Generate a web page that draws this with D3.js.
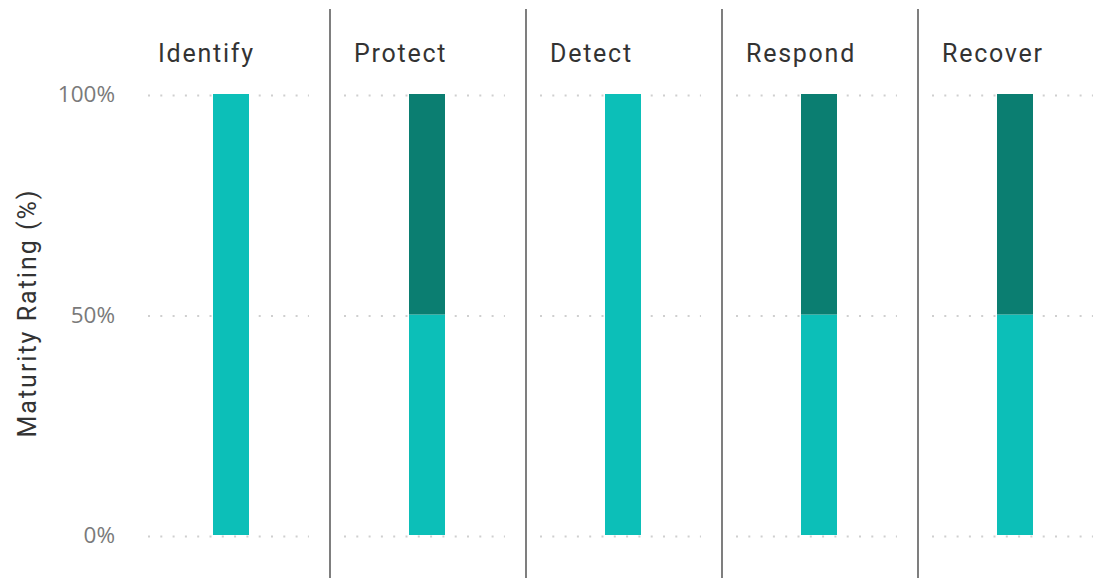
<!DOCTYPE html>
<html><head><meta charset="utf-8">
<script src="https://cdn.jsdelivr.net/npm/d3@7"></script>
<style>body{margin:0;background:#fff;}svg{display:block;}</style>
</head><body>
<svg id="chart" width="1102" height="584"></svg>
<script>
const categories = ["Identify", "Protect", "Detect", "Respond", "Recover"];
const achieved = [100, 50, 100, 50, 50];
const remaining = [0, 50, 0, 50, 50];
const yTicks = [0, 50, 100];
const yTitle = "Maturity Rating (%)";

const svg = d3.select("#chart");
const panelW = 196, panel0 = 134;
const y = d3.scaleLinear().domain([0, 100]).range([535, 94]);
const panelX = d3.scaleBand().domain(categories).range([panel0, panel0 + panelW * categories.length]).padding(0);

const colLight = "#0cbfb8", colDark = "#0b7e71";
const titleFont = "Roboto, 'DejaVu Sans', sans-serif";

// y tick labels
const tl = svg.append("g").selectAll("text").data(yTicks).join("text")
  .attr("x", 115).attr("y", d => y(d)).attr("dy", "0.36em")
  .attr("text-anchor", "end")
  .attr("font-family", "'Open Sans', 'Noto Sans', sans-serif")
  .attr("font-size", 22.5).attr("fill", "#7a7a7a")
  .text(d => d + "%");

// y title
const yt = svg.append("text")
  .attr("transform", "translate(36,313) rotate(-90)")
  .attr("text-anchor", "middle")
  .attr("font-family", titleFont).attr("font-size", 25).attr("fill", "#333")
  .text(yTitle);
{
  const w = yt.node().getComputedTextLength();
  const ls = (247 - w) / (yTitle.length - 1);
  yt.attr("letter-spacing", ls);
}

// panels
const stackData = categories.map((c, i) => ({cat: c, achieved: achieved[i], remaining: remaining[i]}));
const series = d3.stack().keys(["achieved", "remaining"])(stackData);
const colors = {achieved: colLight, remaining: colDark};

categories.forEach((c, i) => {
  const x0 = panelX(c);
  const g = svg.append("g");
  // gridlines
  g.selectAll("line.grid").data(yTicks).join("line")
    .attr("x1", x0 + 14).attr("x2", x0 + 175)
    .attr("y1", d => y(d) + 1.5).attr("y2", d => y(d) + 1.5)
    .attr("stroke", "#cfcfcf").attr("stroke-width", 2)
    .attr("stroke-dasharray", "2 10.3");
  // title
  const t = g.append("text")
    .attr("x", x0 + 24).attr("y", 62)
    .attr("font-family", titleFont).attr("font-size", 25).attr("fill", "#333")
    .text(c);
  if (i === 0) {
    const w = t.node().getComputedTextLength();
    window.__ls = (95 - w) / (c.length - 1);
  }
  t.attr("letter-spacing", window.__ls);
});

// bars
const barX = c => panelX(c) + 79;
svg.append("g").selectAll("g").data(series).join("g")
  .attr("fill", d => colors[d.key])
  .selectAll("rect").data(d => d.filter(s => s[1] - s[0] > 0)).join("rect")
  .attr("x", d => barX(d.data.cat)).attr("width", 36)
  .attr("y", d => y(d[1])).attr("height", d => y(d[0]) - y(d[1]));

// dividers
svg.append("g").selectAll("line").data(categories.slice(1)).join("line")
  .attr("x1", d => panelX(d)).attr("x2", d => panelX(d))
  .attr("y1", 9).attr("y2", 578)
  .attr("stroke", "#3a3a3a").attr("stroke-width", 1.3);
</script>
</body></html>
